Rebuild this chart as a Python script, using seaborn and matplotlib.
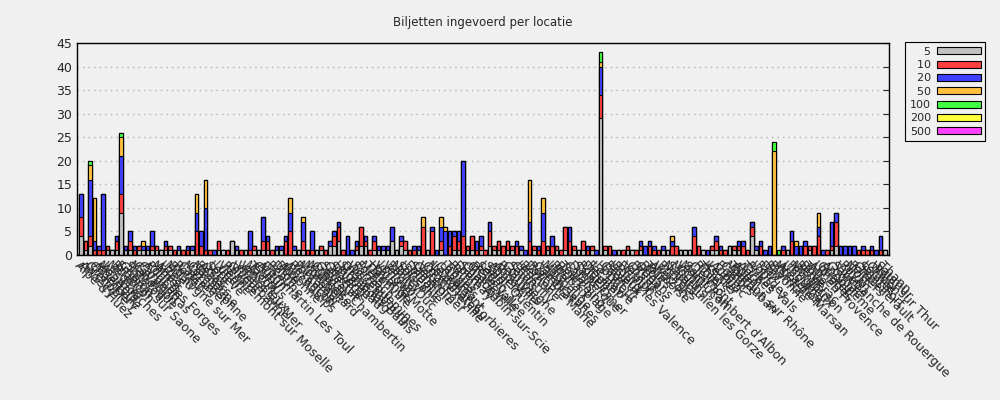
import numpy as np
import pandas as pd
import seaborn as sns
import matplotlib.pyplot as plt
from matplotlib.patches import Patch

sns.set_style("white")
plt.rcParams['font.family'] = ['DejaVu Sans']

locaties = [
    "Alpe d'Huez", "Annecy", "Grenoble", "Chambery", "Albertville", "Moutiers",
    "Les Houches", "Megeve", "Briançon", "Embrun", "Chalon sur Saone", "Sisteron",
    "Manosque", "Cavaillon", "Carpentras", "Avignon", "Pont des Forges", "Nimes",
    "Arles", "Uzes", "Millau", "Boulogne sur Mer", "Rodez", "Castres", "Mazamet",
    "Carcassonne", "Narbonne", "Beziers", "Arras", "Sete", "Lodeve", "Lunel",
    "Vienne", "Remiremont sur Moselle", "Givors", "Villeurbanne", "Villers sur Mer",
    "Venissieux", "Macon", "Tournus", "Cluny", "Autun", "Dommartin Les Toul",
    "Beaune", "Dijon", "Dole", "Auxonne", "Allichamps", "Besançon", "Pontarlier",
    "Morteau", "Montbeliard", "Mulhouse", "Colmar", "Gevrey Chambertin", "Selestat",
    "Obernai", "Saverne", "Haguenau", "Strasbourg", "Digne les Bains", "Wissembourg",
    "Sarreguemines", "Forbach", "Metz", "Thionville", "Hayange", "Vaux la Motte",
    "Longwy", "Verdun", "Bar-le-Duc", "Nancy", "Soissons", "Luneville", "Epinal",
    "Saint-Dié", "Gerardmer", "Vittel", "Contrexeville", "Neufchateau",
    "Lezignan Corbieres", "Chaumont", "Langres", "Troyes", "Reims", "Epernay",
    "Saint-Aubin-sur-Scie", "Chalons", "Charleville", "Belle Vallée", "Sedan",
    "Laon", "Saint-Quentin", "Amiens", "Abbeville", "Beauvais", "Compiegne",
    "Senlis", "Chantilly", "Lens", "Bethune", "Douai", "Port Ste Marie", "Cambrai",
    "Valenciennes", "Maubeuge", "Lille", "Roubaix", "Berck plage", "Tourcoing",
    "Calais", "Dunkerque", "Saint-Omer", "Rouen", "Dieppe", "Fecamp", "Le Havre",
    "Honfleur", "Caen", "Bayeux", "Lisieux", "Bourg les Valence", "Evreux",
    "Vernon", "Chartres", "Dreux", "Orleans", "Blois", "Tours", "Amboise",
    "Vierzon", "Bourges", "Nevers", "Saint Julien les Gorze", "Moulins", "Vichy",
    "Montluçon", "Saint Rambert d'Albon", "Clermont", "Riom", "Thiers", "Issoire",
    "Le Puy", "Aurillac", "Figeac", "Cahors", "Montauban", "Tournon sur Rhône",
    "Agen", "Auch", "Tarbes", "Privas Vals", "Lourdes", "Pau", "Dax", "Bayonne",
    "Biarritz", "Mont-de-Marsan", "Arcachon", "Libourne", "Perigueux", "Montbrison",
    "Bergerac", "Brive", "Tulle", "Aix en Provence", "Limoges", "Gueret",
    "Angouleme", "Cognac", "Saintes", "Villefranche de Rouergue", "Royan", "Niort",
    "Poitiers", "Chatellerault", "Saint-Fort", "Loches", "Chinon", "Willer sur Thur",
    "Saumur", "Thann",
]

coupures = ["5", "10", "20", "50", "100", "200", "500"]

v5 = [4, 1, 2, 0, 0, 0, 1, 1, 1, 9, 1, 1, 0, 1, 1, 1, 1, 1, 1, 1,
      1, 0, 1, 0, 0, 1, 0, 0, 0, 0, 0, 1, 1, 0, 3, 1, 0, 1, 0, 1,
      1, 1, 1, 0, 1, 1, 0, 0, 1, 1, 1, 0, 0, 1, 1, 0, 2, 2, 3, 0,
      0, 0, 1, 2, 2, 0, 1, 1, 1, 1, 3, 1, 2, 1, 0, 0, 1, 0, 1, 0,
      0, 1, 0, 0, 1, 1, 0, 1, 1, 0, 1, 0, 2, 1, 1, 0, 1, 1, 0, 1,
      0, 0, 1, 0, 0, 1, 0, 1, 0, 1, 0, 1, 1, 1, 0, 1, 0, 29, 1, 0,
      0, 1, 0, 1, 1, 0, 1, 0, 0, 0, 0, 1, 1, 0, 0, 1, 1, 1, 0, 0,
      1, 0, 1, 1, 0, 0, 2, 1, 1, 0, 0, 4, 1, 0, 0, 0, 0, 0, 0, 1,
      0, 0, 0, 0, 1, 0, 0, 0, 0, 1, 2, 0, 0, 0, 0, 0, 0, 0, 0, 0,
      0, 1]
v10 = [4, 2, 2, 1, 1, 1, 1, 0, 2, 4, 0, 2, 1, 1, 0, 0, 1, 1, 0, 1,
       1, 1, 0, 1, 1, 0, 5, 2, 1, 1, 0, 2, 0, 1, 0, 0, 1, 0, 1, 1,
       0, 2, 2, 1, 0, 0, 3, 5, 0, 0, 2, 1, 1, 0, 1, 1, 0, 2, 3, 1,
       0, 0, 1, 4, 1, 1, 2, 0, 0, 0, 0, 0, 1, 2, 1, 1, 0, 6, 0, 5,
       0, 2, 0, 2, 3, 2, 4, 1, 3, 1, 1, 1, 3, 1, 2, 2, 2, 1, 2, 0,
       0, 3, 1, 1, 3, 1, 2, 1, 1, 5, 3, 1, 0, 2, 1, 1, 0, 5, 1, 2,
       0, 0, 1, 1, 0, 1, 1, 0, 2, 1, 1, 0, 0, 2, 2, 0, 0, 0, 4, 2,
       0, 0, 1, 2, 1, 1, 0, 1, 1, 2, 1, 2, 0, 2, 0, 0, 0, 0, 1, 0,
       3, 0, 0, 2, 1, 2, 4, 0, 1, 1, 5, 0, 0, 0, 0, 1, 1, 1, 1, 0,
       1, 0]
v20 = [5, 0, 12, 2, 1, 12, 0, 0, 1, 8, 1, 2, 1, 0, 1, 1, 3, 0, 0, 1,
       0, 0, 1, 0, 1, 1, 4, 3, 9, 0, 1, 0, 0, 0, 0, 1, 0, 0, 4, 0,
       0, 5, 1, 0, 1, 1, 1, 4, 1, 0, 4, 0, 4, 0, 0, 0, 1, 1, 1, 0,
       4, 1, 1, 0, 1, 0, 1, 1, 1, 1, 3, 0, 1, 0, 0, 1, 1, 0, 0, 1,
       1, 3, 5, 3, 1, 2, 16, 0, 0, 2, 2, 0, 2, 0, 0, 0, 0, 0, 1, 1,
       1, 4, 0, 1, 6, 0, 2, 0, 0, 0, 3, 0, 0, 0, 1, 0, 1, 6, 0, 0,
       1, 0, 0, 0, 0, 0, 1, 2, 1, 1, 0, 1, 0, 1, 0, 0, 0, 0, 2, 0,
       0, 1, 0, 1, 1, 0, 0, 0, 1, 1, 0, 1, 1, 1, 1, 2, 0, 0, 1, 0,
       2, 2, 2, 1, 0, 0, 2, 1, 0, 5, 2, 2, 2, 2, 2, 0, 1, 0, 1, 1,
       3, 0]
v50 = [0, 0, 3, 9, 0, 0, 0, 0, 0, 4, 0, 0, 0, 0, 1, 0, 0, 0, 0, 0,
       0, 0, 0, 0, 0, 0, 4, 0, 6, 0, 0, 0, 0, 0, 0, 0, 0, 0, 0, 0,
       0, 0, 0, 0, 0, 0, 0, 3, 0, 0, 1, 0, 0, 0, 0, 0, 0, 0, 0, 0,
       0, 0, 0, 0, 0, 0, 0, 0, 0, 0, 0, 0, 0, 0, 0, 0, 0, 2, 0, 0,
       0, 2, 1, 0, 0, 0, 0, 0, 0, 0, 0, 0, 0, 0, 0, 0, 0, 0, 0, 0,
       0, 9, 0, 0, 3, 0, 0, 0, 0, 0, 0, 0, 0, 0, 0, 0, 0, 1, 0, 0,
       0, 0, 0, 0, 0, 0, 0, 0, 0, 0, 0, 0, 0, 1, 0, 0, 0, 0, 0, 0,
       0, 0, 0, 0, 0, 0, 0, 0, 0, 0, 0, 0, 0, 0, 0, 0, 22, 0, 0, 0,
       0, 1, 0, 0, 0, 0, 3, 0, 0, 0, 0, 0, 0, 0, 0, 0, 0, 0, 0, 0,
       0, 0]
v100 = [0, 0, 1, 0, 0, 0, 0, 0, 0, 1, 0, 0, 0, 0, 0, 0, 0, 0, 0, 0,
        0, 0, 0, 0, 0, 0, 0, 0, 0, 0, 0, 0, 0, 0, 0, 0, 0, 0, 0, 0,
        0, 0, 0, 0, 0, 0, 0, 0, 0, 0, 0, 0, 0, 0, 0, 0, 0, 0, 0, 0,
        0, 0, 0, 0, 0, 0, 0, 0, 0, 0, 0, 0, 0, 0, 0, 0, 0, 0, 0, 0,
        0, 0, 0, 0, 0, 0, 0, 0, 0, 0, 0, 0, 0, 0, 0, 0, 0, 0, 0, 0,
        0, 0, 0, 0, 0, 0, 0, 0, 0, 0, 0, 0, 0, 0, 0, 0, 0, 2, 0, 0,
        0, 0, 0, 0, 0, 0, 0, 0, 0, 0, 0, 0, 0, 0, 0, 0, 0, 0, 0, 0,
        0, 0, 0, 0, 0, 0, 0, 0, 0, 0, 0, 0, 0, 0, 0, 0, 2, 1, 0, 0,
        0, 0, 0, 0, 0, 0, 0, 0, 0, 0, 0, 0, 0, 0, 0, 0, 0, 0, 0, 0,
        0, 0]
# geen biljetten van 200 en 500 in de grafiek
v200 = [0, 0, 0, 0, 0, 0, 0, 0, 0, 0, 0, 0, 0, 0, 0, 0, 0, 0, 0, 0,
        0, 0, 0, 0, 0, 0, 0, 0, 0, 0, 0, 0, 0, 0, 0, 0, 0, 0, 0, 0,
        0, 0, 0, 0, 0, 0, 0, 0, 0, 0, 0, 0, 0, 0, 0, 0, 0, 0, 0, 0,
        0, 0, 0, 0, 0, 0, 0, 0, 0, 0, 0, 0, 0, 0, 0, 0, 0, 0, 0, 0,
        0, 0, 0, 0, 0, 0, 0, 0, 0, 0, 0, 0, 0, 0, 0, 0, 0, 0, 0, 0,
        0, 0, 0, 0, 0, 0, 0, 0, 0, 0, 0, 0, 0, 0, 0, 0, 0, 0, 0, 0,
        0, 0, 0, 0, 0, 0, 0, 0, 0, 0, 0, 0, 0, 0, 0, 0, 0, 0, 0, 0,
        0, 0, 0, 0, 0, 0, 0, 0, 0, 0, 0, 0, 0, 0, 0, 0, 0, 0, 0, 0,
        0, 0, 0, 0, 0, 0, 0, 0, 0, 0, 0, 0, 0, 0, 0, 0, 0, 0, 0, 0,
        0, 0]
v500 = [0, 0, 0, 0, 0, 0, 0, 0, 0, 0, 0, 0, 0, 0, 0, 0, 0, 0, 0, 0,
        0, 0, 0, 0, 0, 0, 0, 0, 0, 0, 0, 0, 0, 0, 0, 0, 0, 0, 0, 0,
        0, 0, 0, 0, 0, 0, 0, 0, 0, 0, 0, 0, 0, 0, 0, 0, 0, 0, 0, 0,
        0, 0, 0, 0, 0, 0, 0, 0, 0, 0, 0, 0, 0, 0, 0, 0, 0, 0, 0, 0,
        0, 0, 0, 0, 0, 0, 0, 0, 0, 0, 0, 0, 0, 0, 0, 0, 0, 0, 0, 0,
        0, 0, 0, 0, 0, 0, 0, 0, 0, 0, 0, 0, 0, 0, 0, 0, 0, 0, 0, 0,
        0, 0, 0, 0, 0, 0, 0, 0, 0, 0, 0, 0, 0, 0, 0, 0, 0, 0, 0, 0,
        0, 0, 0, 0, 0, 0, 0, 0, 0, 0, 0, 0, 0, 0, 0, 0, 0, 0, 0, 0,
        0, 0, 0, 0, 0, 0, 0, 0, 0, 0, 0, 0, 0, 0, 0, 0, 0, 0, 0, 0,
        0, 0]

kleuren = ["#c0c0c0", "#ff4040", "#4040ff", "#ffc040", "#40ff40", "#ffff40", "#ff40ff"]

df = pd.DataFrame({"locatie": locaties, "5": v5, "10": v10, "20": v20, "50": v50,
                   "100": v100, "200": v200, "500": v500})
cum = df[coupures].cumsum(axis=1)

fig, ax = plt.subplots(figsize=(10, 4), dpi=100)
fig.patch.set_facecolor("#f0f0f0")
ax.set_facecolor("#f0f0f0")
fig.subplots_adjust(left=0.077, right=0.889, top=0.8925, bottom=0.3625)

# gestapeld: eerst het totaal, dan telkens de lagere cumulatieve som erover
for c, kleur in reversed(list(zip(coupures, kleuren))):
    sns.barplot(x=df["locatie"], y=cum[c], color=kleur, order=locaties,
                edgecolor="black", linewidth=0.8, saturation=1, width=0.8, ax=ax)

ax.set_xlim(-0.9, len(locaties) - 0.1)
ax.set_ylim(0, 45)
ax.set_yticks(range(0, 50, 5))
ax.yaxis.grid(True, linestyle=(0, (1, 3)), color="#b0b0b0", linewidth=1)
ax.set_axisbelow(True)
ax.set_xlabel("")
ax.set_ylabel("")
for s in ax.spines.values():
    s.set_color("black")
    s.set_linewidth(1)
ax.tick_params(axis="y", direction="in", right=True, length=4, labelsize=9)
ax.tick_params(axis="x", length=0, labelsize=9, pad=3)
plt.setp(ax.get_xticklabels(), rotation=-45, ha="left", rotation_mode="anchor")

ax.set_title("Biljetten ingevoerd per locatie", fontsize=8.5, pad=12)

labels = ["    5", "  10", "  20", "  50", "100", "200", "500"]
handles = [Patch(facecolor=k, edgecolor="black", linewidth=0.8) for k in kleuren]
leg = ax.legend(handles, labels, loc="upper left", bbox_to_anchor=(1.02, 1.003),
                markerfirst=False, fancybox=False, edgecolor="black", facecolor="#f0f0f0",
                framealpha=1, fontsize=8, handlelength=3.9, handleheight=0.6,
                borderaxespad=0, labelspacing=0.3, handletextpad=0.6)
leg.get_frame().set_linewidth(0.8)

plt.savefig("out.png", dpi=100, facecolor=fig.get_facecolor())
